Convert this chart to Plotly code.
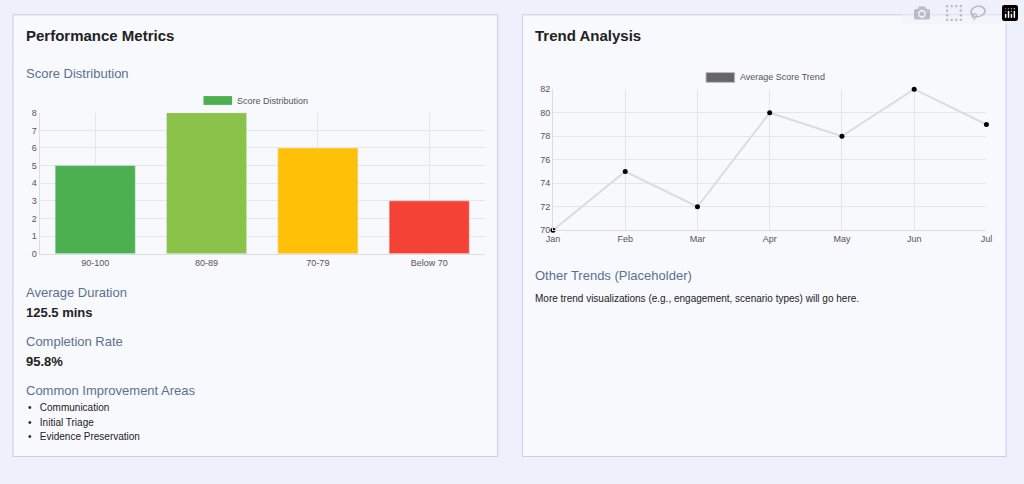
import plotly.graph_objects as go

score_cats = ["90-100", "80-89", "70-79", "Below 70"]
score_vals = [5, 8, 6, 3]
bar_colors = ["#4caf50", "#8bc34a", "#ffc107", "#f44336"]
months = ["Jan", "Feb", "Mar", "Apr", "May", "Jun", "Jul"]
trend_vals = [70, 75, 72, 80, 78, 82, 79]
areas = ["Communication", "Initial Triage", "Evidence Preservation"]

W, H = 1024, 484
def px(x): return x / W
def py(y): return 1 - y / H

fig = go.Figure()
fig.add_trace(go.Bar(x=score_cats, y=score_vals, marker_color=bar_colors, width=0.72,
                     xaxis="x", yaxis="y", showlegend=False))
fig.add_trace(go.Scatter(x=months, y=trend_vals, mode="lines+markers",
                         line=dict(color="#dcdcdc", width=2),
                         marker=dict(color="black", size=5), cliponaxis=False,
                         xaxis="x2", yaxis="y2", showlegend=False))

ax = dict(showline=True, linecolor="#ddd", gridcolor="#e6e6e6", zeroline=False,
          tickfont=dict(size=9, color="#555"), ticks="", fixedrange=True)
fig.update_layout(
    width=W, height=H, margin=dict(l=0, r=0, t=0, b=0),
    paper_bgcolor="#eef0fb", plot_bgcolor="rgba(0,0,0,0)",
    font=dict(family="Helvetica, Arial, Liberation Sans, sans-serif"),
    xaxis=dict(ax, domain=[px(33), px(484)], anchor="y", showgrid=True),
    yaxis=dict(ax, domain=[py(254), py(110)], anchor="x", range=[0, 8], dtick=1),
    xaxis2=dict(ax, domain=[px(553), px(992)], anchor="y2", range=[0, 6]),
    yaxis2=dict(ax, domain=[py(230), py(86)], anchor="x2", range=[70, 82], dtick=2),
)

shapes = []
for x0, x1 in [(6, 497), (522, 1012)]:
    shapes.append(dict(type="rect", xref="paper", yref="paper", x0=px(x0), x1=px(x1),
                       y0=py(461), y1=py(10), fillcolor="#f8f9fc",
                       line=dict(color="#c5cbef", width=1), layer="below"))
shapes.append(dict(type="rect", xref="paper", yref="paper", x0=px(199), x1=px(228),
                   y0=py(102), y1=py(93), fillcolor="#4caf50", line=dict(width=0)))
shapes.append(dict(type="rect", xref="paper", yref="paper", x0=px(708), x1=px(737),
                   y0=py(79), y1=py(69), fillcolor="#666", line=dict(color="#bbb", width=1)))
fig.update_layout(shapes=shapes)

def ann(x, y, text, size, color="#222", bold=False):
    fig.add_annotation(xref="paper", yref="paper", x=px(x), y=py(y), text=f"<b>{text}</b>" if bold else text,
                       showarrow=False, xanchor="left", yanchor="middle",
                       font=dict(size=size, color=color))

head = "#5a7190"
ann(17, 31, "Performance Metrics", 15, "#222", True)
ann(17, 70, "Score Distribution", 13, head)
ann(231, 98, "Score Distribution", 9, "#555")
ann(17, 294, "Average Duration", 13, head)
ann(17, 314, "125.5 mins", 13, "#222", True)
ann(17, 344, "Completion Rate", 13, head)
ann(17, 364, "95.8%", 13, "#222", True)
ann(17, 394, "Common Improvement Areas", 13, head)
for i, a in enumerate(areas):
    ann(19, 411 + 15 * i, "•&nbsp;&nbsp;&nbsp;" + a, 10, "#222")
ann(533, 31, "Trend Analysis", 15, "#222", True)
ann(740, 74, "Average Score Trend", 9, "#555")
ann(533, 276, "Other Trends (Placeholder)", 13, head)
ann(533, 300, "More trend visualizations (e.g., engagement, scenario types) will go here.", 10, "#222")

fig.write_html("out.html",
               post_script="document.body.style.margin='0';document.body.style.overflow='hidden';document.documentElement.style.overflow='hidden';")
